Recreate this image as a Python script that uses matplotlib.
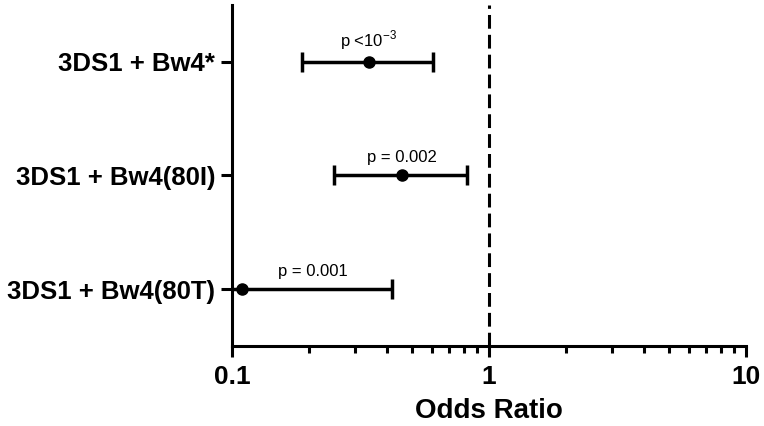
import numpy as np
import matplotlib.pyplot as plt
from matplotlib.ticker import LogLocator, NullFormatter, FixedLocator

plt.rcParams['font.family'] = ['Liberation Sans', 'DejaVu Sans']
plt.rcParams['mathtext.fontset'] = 'custom'
plt.rcParams['mathtext.rm'] = 'Liberation Sans'
plt.rcParams['axes.unicode_minus'] = False

labels = ['3DS1 + Bw4*', '3DS1 + Bw4(80I)', '3DS1 + Bw4(80T)']
odds = [0.34, 0.46, 0.109]
ci_low = [0.188, 0.249, 0.02]
ci_high = [0.607, 0.823, 0.418]
p_text = [r'p <10$^{\mathregular{-3}}$', 'p = 0.002', 'p = 0.001']
p_x = [0.34, 0.46, 0.206]

ypos = np.array([3, 2, 1])

fig = plt.figure(figsize=(7.64, 4.26), dpi=100)
ax = fig.add_axes([0.3037, 0.1878, 0.6727, 0.8005])

odds = np.array(odds)
err = [odds - np.array(ci_low), np.array(ci_high) - odds]
ax.errorbar(odds, ypos, xerr=err, fmt='o', color='black', ms=8,
            elinewidth=2.5, capsize=7, capthick=2.5, zorder=3)

for x, y, t in zip(p_x, ypos, p_text):
    ax.text(x, y + 0.09, t, ha='center', va='bottom', fontsize=12)

ax.axvline(1, color='black', lw=2.2, ls=(0, (4.5, 2)))

ax.set_xscale('log')
ax.set_xlim(0.1, 10)
ax.set_ylim(0.5, 3.5)
ax.xaxis.set_major_locator(FixedLocator([0.1, 1, 10]))
ax.set_xticklabels(['0.1', '1', '10'])
ax.xaxis.set_minor_locator(LogLocator(base=10, subs=np.arange(2, 10)))
ax.xaxis.set_minor_formatter(NullFormatter())
ax.set_yticks(ypos)
ax.set_yticklabels(labels)

for s in ['top', 'right']:
    ax.spines[s].set_visible(False)
for s in ['left', 'bottom']:
    ax.spines[s].set_linewidth(2.2)

ax.tick_params(axis='both', which='major', width=2.2, length=8)
ax.tick_params(axis='x', which='minor', width=2.2, length=5)
ax.tick_params(axis='y', pad=4, labelsize=18.5)
ax.tick_params(axis='x', pad=6, labelsize=19)
for lab in ax.get_xticklabels() + ax.get_yticklabels():
    lab.set_fontweight('bold')

ax.set_xlabel('Odds Ratio', fontsize=20, fontweight='bold', labelpad=6)

fig.savefig('out.png', dpi=100)
